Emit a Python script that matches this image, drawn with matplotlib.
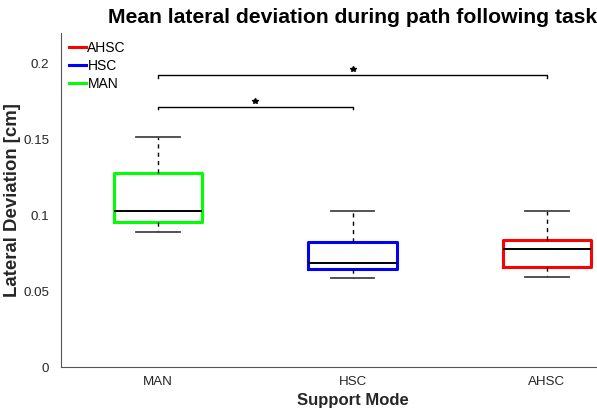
import matplotlib
matplotlib.use('Agg')
import matplotlib.pyplot as plt

plt.rcParams['font.family'] = ['Liberation Sans', 'DejaVu Sans']

modes = ['MAN', 'HSC', 'AHSC']
colors = ['#00ff00', '#0000ff', '#ff0000']
whis_lo = [0.0892, 0.0590, 0.0596]
q1 = [0.0958, 0.0647, 0.0658]
med = [0.1030, 0.0684, 0.0778]
q3 = [0.1276, 0.0826, 0.0838]
whis_hi = [0.1517, 0.1030, 0.1030]

# significance brackets: (from, to, height)
sig_pairs = [(1, 2, 0.1714), (1, 3, 0.1921)]

fig = plt.figure(figsize=(5.97, 4.16), dpi=100)
ax = fig.add_axes([0.1022, 0.117, 0.9766, 0.804])

stats = []
for i, m in enumerate(modes):
    stats.append(dict(label=m, whislo=whis_lo[i], q1=q1[i], med=med[i],
                      q3=q3[i], whishi=whis_hi[i], fliers=[]))

bp = ax.bxp(stats, positions=[1, 2, 3], widths=0.455, showfliers=False,
            boxprops=dict(linewidth=2.2),
            medianprops=dict(color='black', linewidth=1.4),
            whiskerprops=dict(color='black', linestyle=(0, (3, 3)), linewidth=1.0),
            capprops=dict(color='#444444', linewidth=1.3))
for box, c in zip(bp['boxes'], colors):
    box.set_color(c)
for cap in bp['caps']:
    x = cap.get_xdata()
    mid = (x[0] + x[1]) / 2
    cap.set_xdata([mid - 0.112, mid + 0.112])

for a, b, h in sig_pairs:
    ax.plot([a, a, b, b], [h - 0.0015, h, h, h - 0.0015], color='black', linewidth=1.0)
    ax.plot((a + b) / 2, h + 0.004, marker='*', color='black', markersize=4)

ax.set_xlim(0.5, 3.5)
ax.set_ylim(0, 0.22)
ax.set_yticks([0, 0.05, 0.1, 0.15, 0.2])
ax.set_yticklabels(['0', '0.05', '0.1', '0.15', '0.2'])
ax.tick_params(length=0, labelsize=9.6, colors='#262626')
ax.tick_params(axis='y', pad=8.5)
ax.tick_params(axis='x', pad=6)
for s in ['top', 'right']:
    ax.spines[s].set_visible(False)
for s in ['left', 'bottom']:
    ax.spines[s].set_color('#555555')

ax.set_xlabel('Support Mode', fontsize=12, fontweight='bold', color='#262626', labelpad=4)
ax.set_ylabel('Lateral Deviation [cm]', fontsize=13.4, fontweight='bold', color='#262626')
ax.yaxis.set_label_coords(-0.069, 0.5)
ax.set_title('Mean lateral deviation during path following task', fontsize=15.2,
             fontweight='bold', pad=7)

handles = [bp['boxes'][2], bp['boxes'][1], bp['boxes'][0]]
ax.legend(handles, ['AHSC', 'HSC', 'MAN'], loc='upper left', frameon=False,
          fontsize=10, handlelength=1.2, handletextpad=0.1, labelspacing=0.28,
          borderaxespad=0.2, bbox_to_anchor=(0.0, 1.0))

fig.savefig('out.png', dpi=100)
